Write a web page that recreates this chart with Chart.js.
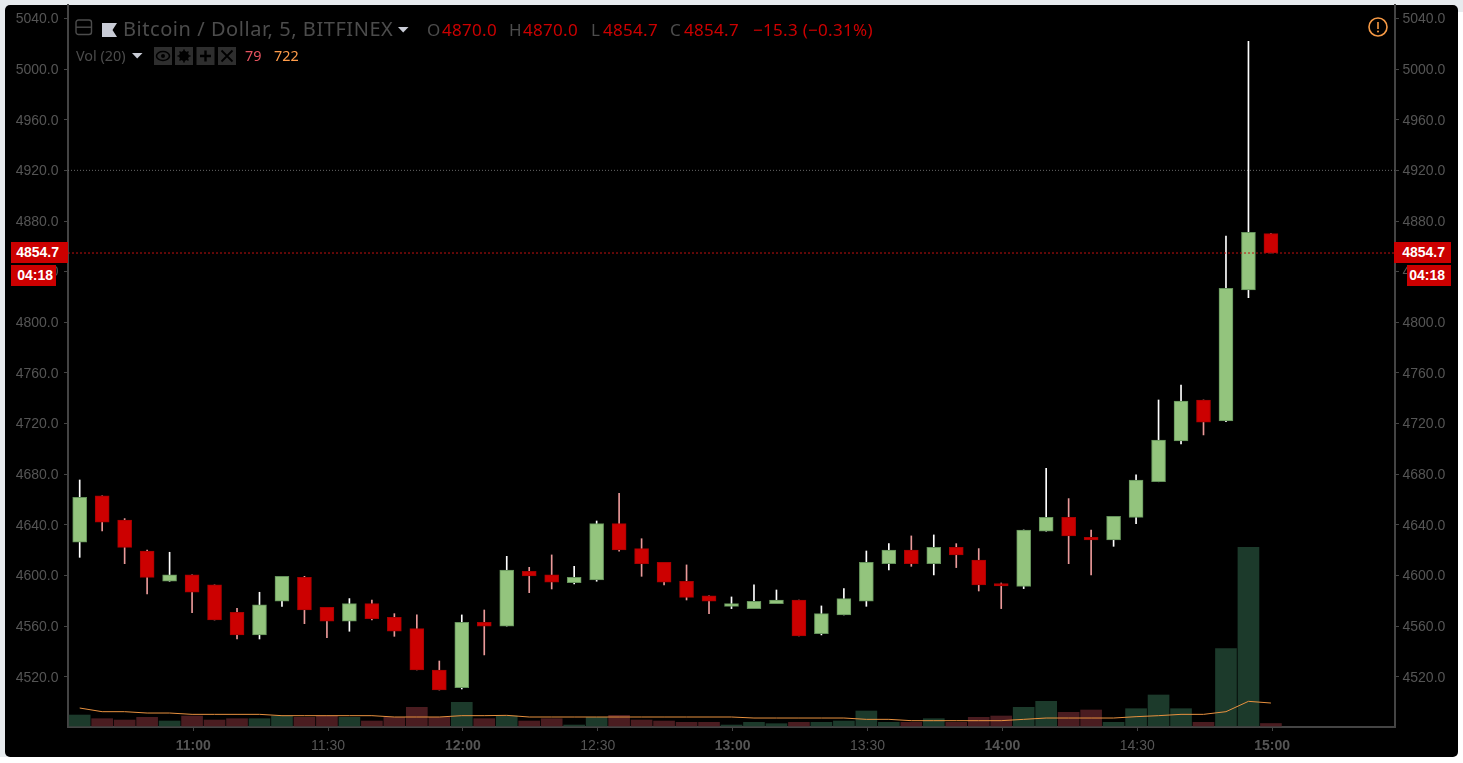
<!DOCTYPE html>
<html>
<head>
<meta charset="utf-8">
<title>Bitcoin / Dollar, 5, BITFINEX</title>
<script src="https://cdn.jsdelivr.net/npm/chart.js@4/dist/chart.umd.min.js"></script>
<style>
html,body{margin:0;padding:0;width:1463px;height:763px;overflow:hidden;background:#fff;}
#top{position:absolute;left:0;top:0;width:1463px;height:12px;background:#e7ebee;}
#leftb{position:absolute;left:0;top:0;width:12px;height:757px;background:#e7ebee;}
#panel{position:absolute;left:5px;top:5px;width:1453px;height:752px;background:#000;border-radius:5px;}
#wrap{position:absolute;left:0;top:0;width:1463px;height:763px;}
.t{position:absolute;white-space:nowrap;font-family:"Noto Sans",sans-serif;line-height:1;}
.h{font-size:17px;top:21px;color:#4c4c4c;letter-spacing:0.3px;}
.r{color:#cc0000;}
.s{font-size:14.4px;top:49px;}
.tag{position:absolute;background:#cc0000;color:#fff;font:bold 14px "Liberation Sans",Arial,sans-serif;height:21px;line-height:21px;text-align:right;box-sizing:border-box;}
svg{position:absolute;}
</style>
</head>
<body>
<div id="top"></div><div id="leftb"></div><div id="panel"></div>
<div id="wrap"><canvas id="c" width="1463" height="763"></canvas></div>

<svg style="left:75px;top:19px" width="18" height="17" viewBox="0 0 18 17"><rect x="1" y="1" width="15.5" height="14.5" rx="2.5" fill="none" stroke="#4c4c4c" stroke-width="1.4"/><path d="M1 8.2H16.5" stroke="#4c4c4c" stroke-width="1.4"/></svg>
<svg style="left:102px;top:23px" width="16" height="14" viewBox="0 0 16 14"><path d="M0 0H15L10.5 7L15 14H0Z" fill="#c9ccd6"/></svg>
<span class="t h" style="left:123px;top:19px;font-size:20px;letter-spacing:0.55px">Bitcoin / Dollar, 5, BITFINEX</span>
<svg style="left:398px;top:27px" width="11" height="6" viewBox="0 0 11 6"><path d="M0 0H10.5L5.2 5.5Z" fill="#c9ccd6"/></svg>
<span class="t h" style="left:427px">O</span><span class="t h r" style="left:442px">4870.0</span>
<span class="t h" style="left:509px">H</span><span class="t h r" style="left:523px">4870.0</span>
<span class="t h" style="left:591px">L</span><span class="t h r" style="left:603px">4854.7</span>
<span class="t h" style="left:670px">C</span><span class="t h r" style="left:684px">4854.7</span>
<span class="t h r" style="left:753px">−15.3 (−0.31%)</span>
<span class="t s" style="left:76px;color:#4c4c4c">Vol (20)</span>
<svg style="left:132px;top:53px" width="11" height="6" viewBox="0 0 11 6"><path d="M0 0H10.5L5.2 5.5Z" fill="#c9ccd6"/></svg>
<svg style="left:154px;top:47px" width="83" height="18" viewBox="0 0 83 18">
<rect x="0" width="18" height="18" fill="#2e2e2e"/><rect x="21" width="18" height="18" fill="#2e2e2e"/><rect x="42.5" width="18" height="18" fill="#2e2e2e"/><rect x="64" width="18" height="18" fill="#2e2e2e"/>
<ellipse cx="9" cy="9" rx="6.5" ry="4.5" fill="none" stroke="#000" stroke-width="1.6"/><circle cx="9" cy="9" r="2" fill="#000"/>
<circle cx="30" cy="9" r="3.6" fill="none" stroke="#000" stroke-width="2.6"/><path d="M30 2.5V15.5M23.5 9H36.5M25.5 4.5L34.5 13.5M34.5 4.5L25.5 13.5" stroke="#000" stroke-width="1.6"/>
<path d="M51.5 3.5V14.5M46 9H57" stroke="#000" stroke-width="2.4"/>
<path d="M67.5 3.5L78.5 14.5M78.5 3.5L67.5 14.5" stroke="#000" stroke-width="1.8"/></svg>
<span class="t s" style="left:245px;color:#e5535f">79</span>
<span class="t s" style="left:274px;color:#ff9c4a">722</span>
<svg style="left:1367px;top:16px" width="22" height="22" viewBox="0 0 22 22"><circle cx="11" cy="11" r="9" fill="none" stroke="#f79a45" stroke-width="1.6"/><path d="M11 6V13" stroke="#f79a45" stroke-width="1.6"/><circle cx="11" cy="15.6" r="1" fill="#f79a45"/></svg>
<div class="tag" style="left:11px;top:242px;width:57px;padding-right:9px">4854.7</div>
<div class="tag" style="left:11px;top:265px;width:45px;padding-right:3px">04:18</div>
<div class="tag" style="left:1394px;top:242px;width:57px;padding-right:6px">4854.7</div>
<div class="tag" style="left:1407px;top:265px;width:44px;padding-right:6px">04:18</div>

<script>
const times = ["10:35","10:40","10:45","10:50","10:55","11:00","11:05","11:10","11:15","11:20","11:25","11:30","11:35","11:40","11:45","11:50","11:55","12:00","12:05","12:10","12:15","12:20","12:25","12:30","12:35","12:40","12:45","12:50","12:55","13:00","13:05","13:10","13:15","13:20","13:25","13:30","13:35","13:40","13:45","13:50","13:55","14:00","14:05","14:10","14:15","14:20","14:25","14:30","14:35","14:40","14:45","14:50","14:55","15:00"];
const opens = [4626.2,4662.8,4643.8,4619.3,4595.4,4600.4,4592.5,4570.9,4553.0,4579.6,4598.5,4574.8,4563.8,4577.7,4566.9,4558.0,4525.3,4511.4,4563.0,4560.0,4603.3,4600.4,4594.3,4596.4,4640.9,4621.2,4610.4,4595.4,4583.8,4575.6,4573.8,4577.7,4580.6,4554.0,4568.8,4579.6,4609.3,4620.1,4609.3,4622.2,4612.2,4593.5,4591.4,4634.9,4645.9,4630.1,4628.0,4645.9,4674.0,4706.2,4738.6,4722.0,4825.5,4870.0];
const highs = [4675.4,4662.8,4644.9,4620.1,4618.3,4600.4,4592.5,4574.0,4586.7,4599.3,4599.3,4574.8,4581.7,4580.6,4569.8,4568.8,4532.4,4568.8,4572.7,4615.1,4606.4,4616.2,4607.2,4643.0,4664.9,4629.0,4610.4,4608.3,4583.8,4583.0,4592.5,4588.5,4580.6,4575.9,4589.6,4619.3,4625.1,4631.2,4632.0,4625.1,4621.2,4594.0,4635.9,4684.6,4660.7,4635.9,4646.7,4679.4,4738.6,4750.4,4738.6,4868.1,5022.0,4870.0];
const lows = [4614.3,4635.1,4609.3,4585.4,4595.4,4570.6,4564.8,4549.8,4549.8,4575.6,4561.9,4550.9,4555.9,4564.8,4551.9,4525.3,4509.5,4510.3,4537.2,4560.0,4586.4,4589.3,4593.2,4595.4,4619.1,4599.3,4592.5,4580.6,4569.8,4573.8,4573.8,4577.7,4552.2,4553.0,4568.8,4575.6,4604.3,4607.2,4600.4,4606.2,4587.7,4573.8,4589.6,4634.9,4609.3,4600.4,4623.0,4640.9,4674.0,4703.8,4711.0,4721.5,4819.4,4854.7];
const closes = [4661.7,4642.0,4622.2,4598.5,4600.4,4586.7,4564.8,4553.0,4576.7,4599.3,4572.7,4563.8,4577.7,4565.9,4555.9,4525.3,4509.5,4563.0,4560.0,4604.3,4599.6,4594.6,4598.5,4640.9,4620.1,4609.3,4594.6,4582.7,4579.6,4577.7,4579.6,4580.6,4552.2,4569.8,4581.7,4610.4,4620.1,4609.3,4622.2,4616.2,4592.5,4591.7,4635.9,4645.9,4631.2,4628.0,4646.7,4675.4,4707.0,4737.8,4721.0,4826.8,4871.0,4854.7];
const volumes = [345,230,188,272,157,314,188,230,230,314,272,314,272,157,272,586,272,743,230,314,157,230,31,272,335,188,157,115,115,31,115,73,115,115,157,471,115,115,230,115,272,314,586,775,429,503,115,544,974,544,115,2429,5612,79];
const volumeMA = [565,450,450,408,408,366,366,366,366,325,325,325,325,325,283,283,283,325,325,335,283,283,283,283,283,283,283,283,283,283,251,251,251,251,251,209,209,168,168,168,168,168,209,251,251,251,251,293,325,366,366,450,775,722];
const priceTicks = [5040,5000,4960,4920,4880,4840,4800,4760,4720,4680,4640,4600,4560,4520];
const timeTicks = ["11:00","11:30","12:00","12:30","13:00","13:30","14:00","14:30","15:00"];
const levelPrice = 4920;
const lastPrice = 4854.7;

const toMin = s => { const p = s.split(":"); return +p[0]*60 + +p[1]; };
const xs = times.map(toMin);
const up = opens.map((o,i) => closes[i] >= o);
const xMin = 632.4, xMax = 927.6;

const candleWicks = xs.map((x,i) => ({x, y:[lows[i], highs[i]]}));
const candleBodies = xs.map((x,i) => ({x, y:[Math.min(opens[i],closes[i]), Math.max(opens[i],closes[i])]}));
const volBars = xs.map((x,i) => ({x, y:volumes[i]}));
const maLine = xs.map((x,i) => ({x, y:volumeMA[i]}));
const span = v => [{x:xMin,y:v},{x:xMax,y:v}];

const barBase = {type:'bar', grouped:false, categoryPercentage:1, barPercentage:1, borderSkipped:false};
const axisColor = '#444444', labelColor = '#555555';
const fixPriceTicks = s => { s.ticks = priceTicks.map(v => ({value:v})); };
const priceAxis = (pos, w, pad) => ({
  type:'linear', position:pos, min:4480.26, max:5050.64, stacked:false,
  afterBuildTicks: fixPriceTicks,
  afterFit: s => { s.width = w; s.paddingTop = 0; s.paddingBottom = 0; },
  border:{display:true, color:axisColor, width:2},
  grid:{drawOnChartArea:false, drawTicks:true, tickLength:4, tickColor:axisColor, tickWidth:1},
  ticks:{color:labelColor, padding:pad, labelOffset:1, autoSkip:false, font:{family:'"Liberation Sans",Arial,sans-serif', size:14},
         callback:v => v.toFixed(1)}
});

new Chart(document.getElementById('c'), {
  type:'bar',
  data:{datasets:[
    {type:'line', data:span(lastPrice), yAxisID:'yL', borderColor:'#c01010', borderWidth:1, borderDash:[2,2], pointRadius:0, order:0},
    {type:'line', data:maLine, yAxisID:'yV', borderColor:'#e8913f', borderWidth:1, pointRadius:0, tension:0, order:1},
    {...barBase, data:candleBodies, yAxisID:'yL', maxBarThickness:14, borderWidth:1,
      backgroundColor:up.map(u => u ? '#93c47d' : '#cc0000'),
      borderColor:up.map(u => u ? '#64925a' : '#a80000'), order:2},
    {...barBase, data:candleWicks, yAxisID:'yL', maxBarThickness:1,
      backgroundColor:up.map(u => u ? '#ffffff' : '#ea9999'), order:3},
    {type:'line', data:span(levelPrice), yAxisID:'yL', borderColor:'#666666', borderWidth:1, borderDash:[1,2], pointRadius:0, order:4},
    {...barBase, data:volBars, yAxisID:'yV', maxBarThickness:21,
      backgroundColor:up.map(u => u ? '#1c3a2b' : '#4a1c20'), order:5},
    {type:'line', data:span(0), yAxisID:'yR', borderWidth:0, pointRadius:0, order:6}
  ]},
  options:{
    responsive:false, animation:false, events:[],
    layout:{padding:{left:5,right:5,top:5,bottom:6}},
    plugins:{legend:{display:false}, title:{display:false}, tooltip:{enabled:false}},
    scales:{
      x:{type:'linear', offset:false, min:xMin, max:xMax,
        afterBuildTicks: s => { s.ticks = timeTicks.map(t => ({value:toMin(t)+0.25, label:t})); },
        afterFit: s => { s.height = 30; s.paddingLeft = 0; s.paddingRight = 0; },
        border:{display:true, color:axisColor, width:2},
        grid:{offset:false, drawOnChartArea:false, drawTicks:true, tickLength:4, tickColor:axisColor},
        ticks:{color:labelColor, padding:7, autoSkip:false, maxRotation:0,
          font:c => ({family:'"Liberation Sans",Arial,sans-serif', size:14,
                      weight:(timeTicks[c.index] && timeTicks[c.index].endsWith(":00")) ? 'bold' : 'normal'}),
          callback:(v,i) => timeTicks[i]}
      },
      yL:priceAxis('left',63,5.5),
      yR:priceAxis('right',63,3.5),
      yV:{type:'linear', display:false, min:-31, max:22640, stacked:false}
    }
  }
});
</script>
</body>
</html>
